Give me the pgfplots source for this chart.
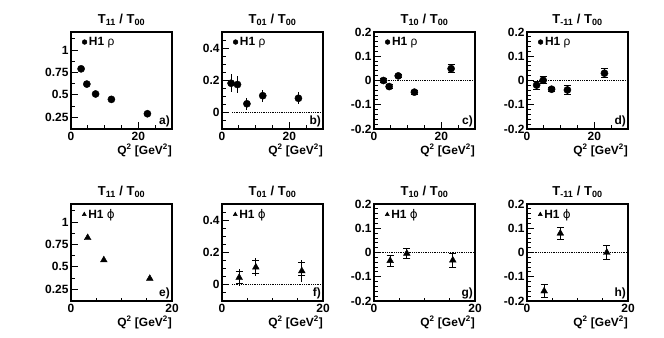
\documentclass[border=0pt]{standalone}
\usepackage{fontspec}
\setmainfont{Liberation Sans}
\newfontfamily\dejavu{DejaVu Sans}
\usepackage{pgfplots}
\pgfplotsset{compat=1.18}

\newcommand{\rf}{\fontsize{12}{14}\selectfont\bfseries}
\newcommand{\tf}{\fontsize{13}{15}\selectfont\bfseries}
\tikzset{lab/.style={font=\rf, anchor=south east, inner sep=2bp}}

\pgfplotsset{
  panel/.style={
    scale only axis, width=101bp, height=97bp, anchor=south west,
    axis line style={line width=1.1bp},
    tick align=inside, tick pos=left,
    major tick length=7bp, minor tick length=3.5bp,
    every tick/.style={black, line width=0.9bp},
    ticklabel style={font=\rf},
    yticklabel style={xshift=1bp},
    title style={font=\tf, yshift=-3bp},
    xlabel={Q\textsuperscript{2} [GeV\textsuperscript{2}]},
    xlabel style={font=\rf, at={(axis description cs:1,0)}, anchor=north east, inner sep=0pt, yshift=-15bp},
    xmin=0, xtick={0,20}, xticklabels={0,20},
    legend style={draw=none, fill=none, font=\rf, at={(0,1)}, anchor=north west,
      inner sep=1bp, xshift=10bp, yshift=-2bp},
    legend image code/.code={\draw[mark size=2.4bp] plot coordinates {(0.1cm,0cm)};},
    clip=false,
  },
  toprow/.style={xmax=30, minor xtick={5,10,15,25}},
  botrow/.style={xmax=20, minor xtick={5,10,15}},
  ratio11/.style={ymin=0.12, ymax=1.2, ytick={0.25,0.5,0.75,1},
    yticklabels={0.25,0.5,0.75,1}, minor ytick={0.125,0.375,0.625,0.875,1.125}},
  ratio01/.style={ymin=-0.1, ymax=0.5, ytick={0,0.2,0.4}, yticklabels={0,0.2,0.4},
    minor ytick={-0.05,0.05,0.1,0.15,0.25,0.3,0.35,0.45}},
  ratio10/.style={ymin=-0.2, ymax=0.2, ytick={-0.2,-0.1,0,0.1,0.2},
    yticklabels={-0.2,-0.1,0,0.1,0.2}, minor y tick num=4},
  rho/.style={only marks, mark=*, mark size=3.6bp, black,
    error bars/.cd, y dir=both, y explicit,
    error bar style={line width=0.9bp},
    error mark options={rotate=90, mark size=3.5bp, line width=0.9bp}},
  rhonocap/.style={only marks, mark=*, mark size=3.6bp, black,
    error bars/.cd, y dir=both, y explicit,
    error bar style={line width=0.9bp}, error mark=none},
  phi/.style={only marks, mark=triangle*, mark size=3.9bp, black,
    error bars/.cd, y dir=both, y explicit,
    error bar style={line width=0.9bp},
    error mark options={rotate=90, mark size=3.5bp, line width=0.9bp}},
  zeroline/.style={densely dotted, line width=0.8bp, black, forget plot},
}

\begin{document}
\begin{tikzpicture}[x=1bp, y=1bp]
\useasboundingbox (0,0) rectangle (664,337);

% ---------- top row: rho ----------
\begin{axis}[panel, toprow, ratio11, at={(71bp,208bp)},
  title={T\textsubscript{11} / T\textsubscript{00}}]
\addplot[only marks, mark=*, mark size=3.6bp, black] coordinates {
  (3.0,0.79) (4.7,0.62) (7.3,0.51) (12.0,0.45) (22.7,0.29)};
\addlegendentry{H1 {\mdseries ρ}}
\node[lab] at (rel axis cs:1,0) {a)};
\end{axis}

\begin{axis}[panel, toprow, ratio01, at={(222bp,208bp)},
  title={T\textsubscript{01} / T\textsubscript{00}}]
\addplot[rhonocap] coordinates {
  (2.7,0.183) +- (0,0.057) (4.6,0.175) +- (0,0.05) (7.4,0.056) +- (0,0.036)
  (12.1,0.106) +- (0,0.038) (22.7,0.09) +- (0,0.036)};
\addlegendentry{H1 {\mdseries ρ}}
\addplot[zeroline] coordinates {(3,0) (30,0)};
\node[lab] at (rel axis cs:1,0) {b)};
\end{axis}

\begin{axis}[panel, toprow, ratio10, at={(374bp,208bp)},
  title={T\textsubscript{10} / T\textsubscript{00}}]
\addplot[rho] coordinates {
  (2.8,0.0) +- (0,0.008) (4.5,-0.025) +- (0,0.008) (7.2,0.019) +- (0,0.008)
  (12.0,-0.048) +- (0,0.008) (22.9,0.049) +- (0,0.017)};
\addlegendentry{H1 {\mdseries ρ}}
\addplot[zeroline] coordinates {(3,0) (30,0)};
\node[lab] at (rel axis cs:1,0) {c)};
\end{axis}

\begin{axis}[panel, toprow, ratio10, at={(527bp,208bp)},
  title={T\textsubscript{-11} / T\textsubscript{00}}]
\addplot[rho] coordinates {
  (2.85,-0.019) +- (0,0.016) (4.8,0.001) +- (0,0.015) (7.3,-0.036) +- (0,0.008)
  (12.0,-0.039) +- (0,0.017) (23.0,0.03) +- (0,0.019)};
\addlegendentry{H1 {\mdseries ρ}}
\addplot[zeroline] coordinates {(3,0) (30,0)};
\node[lab] at (rel axis cs:1,0) {d)};
\end{axis}

% ---------- bottom row: phi ----------
\begin{axis}[panel, botrow, ratio11, at={(71bp,36bp)},
  title={T\textsubscript{11} / T\textsubscript{00}}]
\addplot[only marks, mark=triangle*, mark size=3.9bp, black] coordinates {
  (3.3,0.824) (6.5,0.576) (15.6,0.37)};
\addlegendentry{H1 {\mdseries\dejavu ϕ}}
\node[lab] at (rel axis cs:1,0) {e)};
\end{axis}

\begin{axis}[panel, botrow, ratio01, at={(222bp,36bp)},
  title={T\textsubscript{01} / T\textsubscript{00}}]
\addplot[phi] coordinates {
  (3.4,0.045) +- (0,0.035) (6.7,0.109) +- (0,0.04) (15.8,0.086) += (0,0.054) -= (0,0.029)};
\addlegendentry{H1 {\mdseries\dejavu ϕ}}
\addplot[black, draw=none, forget plot, error bars/.cd, y dir=both, y explicit,
  error bar style={line width=0.9bp}, error mark=none] coordinates {
  (3.4,0.045) +- (0,0.05) (6.7,0.109) +- (0,0.055) (15.8,0.086) += (0,0.065) -= (0,0.066)};
\addplot[zeroline] coordinates {(2,0) (20,0)};
\node[lab] at (rel axis cs:1,0) {f)};
\end{axis}

\begin{axis}[panel, botrow, ratio10, at={(374bp,36bp)},
  title={T\textsubscript{10} / T\textsubscript{00}}]
\addplot[phi] coordinates {
  (3.2,-0.034) +- (0,0.022) (6.5,-0.004) +- (0,0.019) (15.6,-0.032) +- (0,0.029)};
\addlegendentry{H1 {\mdseries\dejavu ϕ}}
\addplot[zeroline] coordinates {(1.5,0) (20,0)};
\node[lab] at (rel axis cs:1,0) {g)};
\end{axis}

\begin{axis}[panel, botrow, ratio10, at={(527bp,36bp)},
  title={T\textsubscript{-11} / T\textsubscript{00}}]
\addplot[phi] coordinates {
  (3.4,-0.159) +- (0,0.027) (6.6,0.079) +- (0,0.025) (15.8,0.0) +- (0,0.028)};
\addlegendentry{H1 {\mdseries\dejavu ϕ}}
\addplot[zeroline] coordinates {(1.5,0) (20,0)};
\node[lab] at (rel axis cs:1,0) {h)};
\end{axis}

\end{tikzpicture}
\end{document}
